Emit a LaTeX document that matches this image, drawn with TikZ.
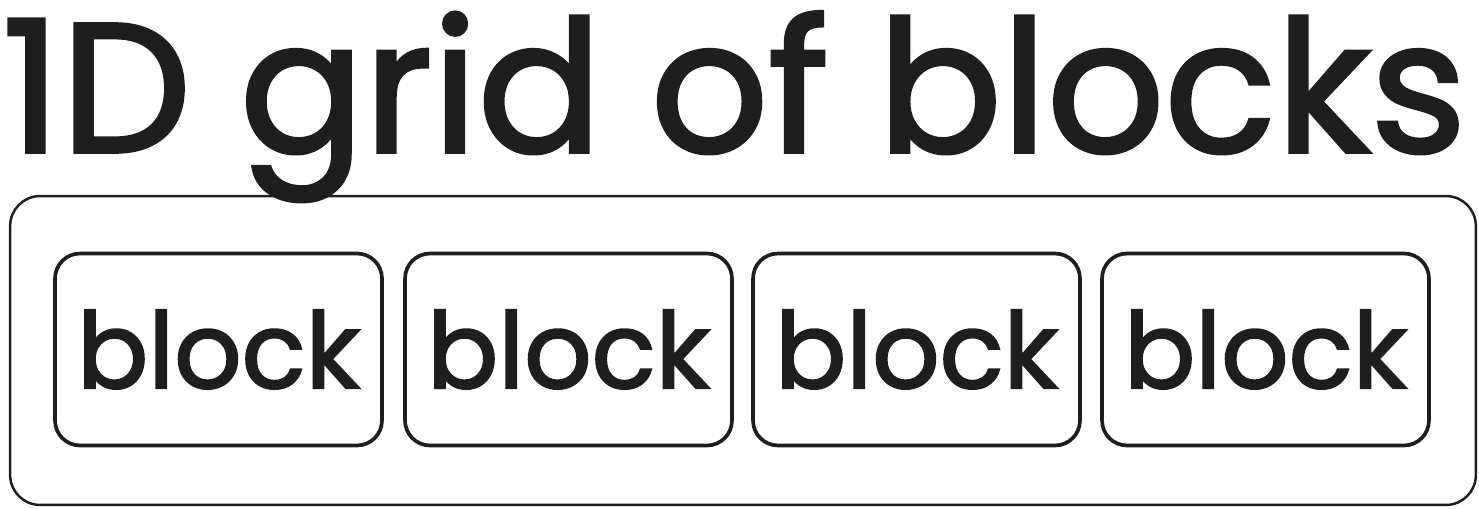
\documentclass[tikz,border=0pt]{standalone}
\usepackage{fontspec}
\setmainfont{Poppins}[FakeBold=2]
\definecolor{ink}{HTML}{1E1E1E}

\begin{document}
\begin{tikzpicture}[x=0.02cm, y=-0.02cm, every node/.style={text=ink},
                    grid/.style={draw=ink, line width=1.4pt, rounded corners=0.6cm, minimum width=29.32cm, minimum height=6.18cm},
                    blk/.style={draw=ink, line width=2.1pt, rounded corners=0.5cm, minimum width=6.54cm, minimum height=3.84cm, inner sep=0pt, font=\fontsize{60}{60}\selectfont}]
    \useasboundingbox (0,0) rectangle (1479,509);
    \node[anchor=base west, inner sep=0pt, font=\fontsize{104.5}{104.5}\selectfont] (title) at (2,152) {1D grid of blocks};
    \node[grid] (G) at (743,350.5) {};
    \foreach \i/\x in {1/218.5, 2/568.5, 3/916.5, 4/1265.5} {
        \node[blk] (B\i) at (\x,349.5) {block};
    }
\end{tikzpicture}
\end{document}
